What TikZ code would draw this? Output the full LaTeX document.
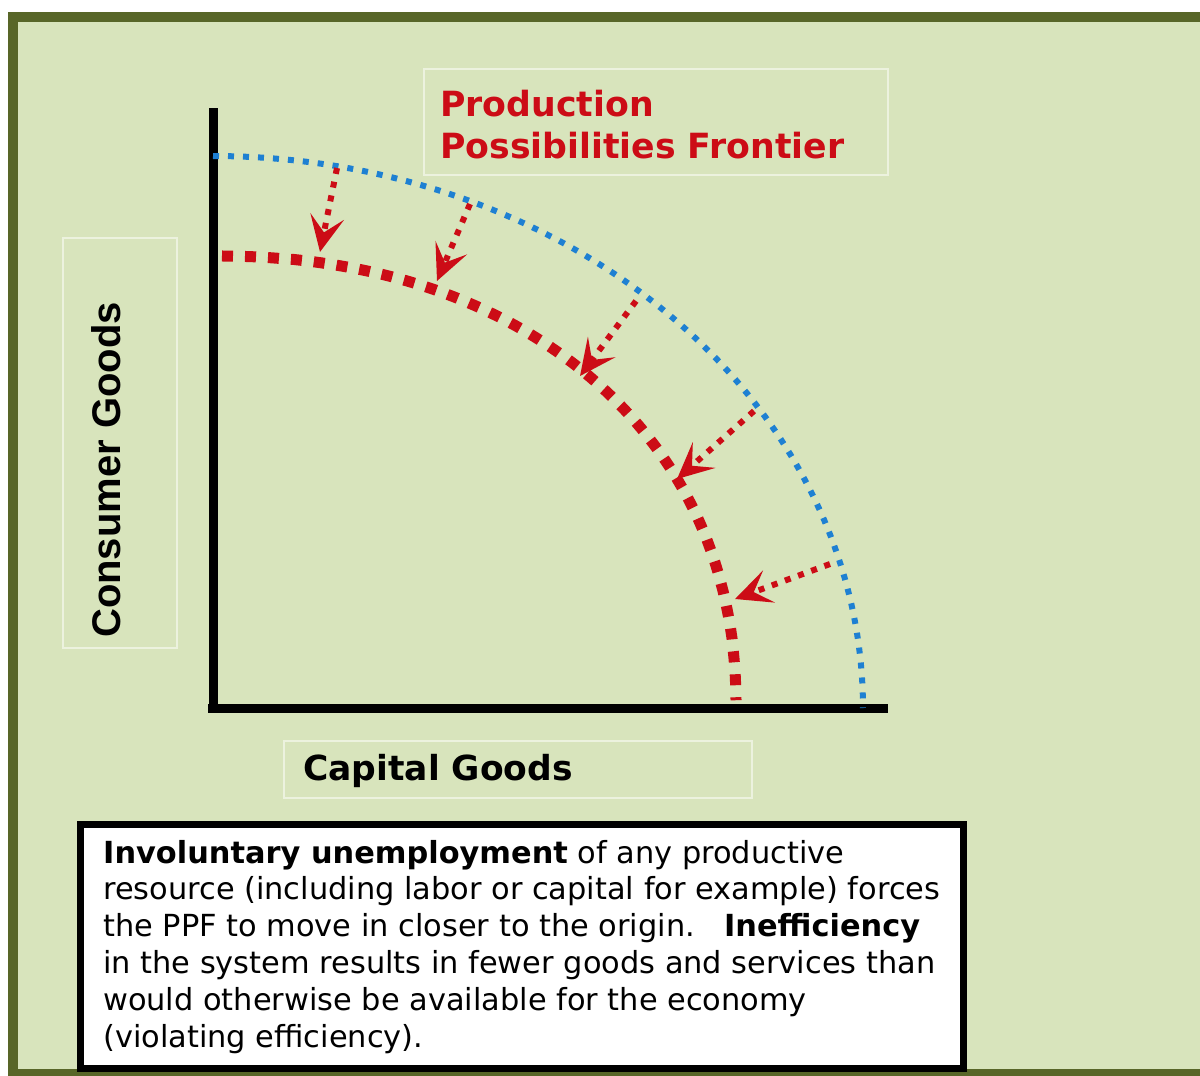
\documentclass[tikz,border=0pt]{standalone}
\usepackage{fontspec}
\setmainfont{DejaVu Sans}
\newfontfamily\arialbold{Liberation Sans}
\usetikzlibrary{arrows.meta}

\definecolor{frameolive}{RGB}{88,102,40}
\definecolor{panelgreen}{RGB}{216,228,188}
\definecolor{ppfred}{RGB}{204,12,22}
\definecolor{ppfblue}{RGB}{30,128,210}
\definecolor{faintline}{RGB}{236,242,222}

\tikzset{
  axisline/.style={black, line width=9pt},
  outerfrontier/.style={ppfblue, line width=6pt, dash pattern=on 6pt off 9pt},
  innerfrontier/.style={ppfred, line width=11pt, dash pattern=on 11pt off 12pt},
  shiftarrow/.style={ppfred, line width=6pt, dash pattern=on 6pt off 8pt,
    -{Stealth[length=36pt,width=34pt,inset=16pt,sep=0pt]}},
  labelframe/.style={faintline, line width=1.5pt},
  notebox/.style={draw=black, fill=white, line width=7pt},
}

\begin{document}
\begin{tikzpicture}[x=1pt,y=-1pt]
  \useasboundingbox (0,0) rectangle (1200,1076);
  \fill[white] (0,0) rectangle (1200,1076);

  % panel with olive frame
  \draw[frameolive, line width=10pt, fill=panelgreen] (13,17) rectangle (1215,1074);

  % faint label frames
  \draw[labelframe] (424,69) rectangle (888,175);
  \draw[labelframe] (63,238) rectangle (177,648);
  \draw[labelframe] (284,741) rectangle (752,798);

  % axes
  \coordinate (O) at (213,708);
  \coordinate (ytop) at (213,108);
  \coordinate (xend) at (888,708);
  \draw[axisline] (ytop) -- (213,712);
  \draw[axisline] (208,708) -- (xend);

  % frontiers
  \draw[outerfrontier] plot[domain=90:0, samples=100]
    ({213+650*cos(\x)}, {708-552*sin(\x)});
  \draw[innerfrontier] plot[domain=89.3:0.7, samples=120]
    ({213+523*pow(cos(\x),0.9217)}, {708-452*pow(sin(\x),0.9217)});

  % inward shifts
  \coordinate (b1) at (337,168); \coordinate (r1) at (320,252);
  \coordinate (b2) at (470,204); \coordinate (r2) at (437,281);
  \coordinate (b3) at (636,301); \coordinate (r3) at (580,376);
  \coordinate (b4) at (754,411); \coordinate (r4) at (677,479);
  \coordinate (b5) at (830,564); \coordinate (r5) at (735,599);
  \draw[shiftarrow] (b1) -- (r1);
  \draw[shiftarrow] (b2) -- (r2);
  \draw[shiftarrow] (b3) -- (r3);
  \draw[shiftarrow] (b4) -- (r4);
  \draw[shiftarrow] (b5) -- (r5);

  % labels
  \node[anchor=base west, inner sep=0pt, align=left, text=ppfred,
        font=\fontsize{34.7}{42}\selectfont\bfseries] (title) at (440,158)
    {Production\\Possibilities Frontier};
  \node[anchor=base, rotate=90, inner sep=0pt,
        font=\arialbold\fontsize{40}{48}\selectfont\bfseries] (ylabel) at (120,470)
    {Consumer Goods};
  \node[anchor=base west, inner sep=0pt,
        font=\fontsize{34.5}{40}\selectfont\bfseries] (xlabel) at (303,780)
    {Capital Goods};

  % explanatory note
  \draw[notebox] (80,824) rectangle (963,1068);
  \node[anchor=base west, inner sep=0pt, align=left,
        font=\fontsize{30.4}{36.8}\selectfont] (note) at (103,1047)
    {\textbf{Involuntary unemployment} of any productive\\
     resource (including labor or capital for example) forces\\
     the PPF to move in closer to the origin.\ \ \ \textbf{Inefficiency}\\
     in the system results in fewer goods and services than\\
     would otherwise be available for the economy\\
     (violating efficiency).};
\end{tikzpicture}
\end{document}
